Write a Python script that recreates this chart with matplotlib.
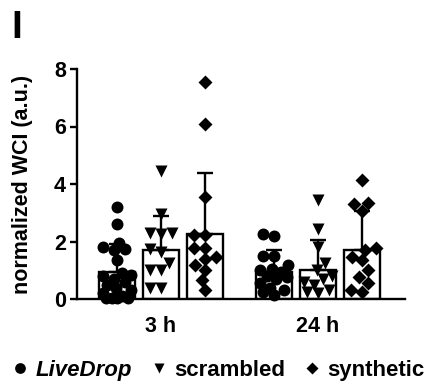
import numpy as np
import matplotlib
matplotlib.use('Agg')
import matplotlib.pyplot as plt
from matplotlib.lines import Line2D

plt.rcParams['font.family'] = ['Liberation Sans', 'DejaVu Sans']
plt.rcParams['font.weight'] = 'bold'

timepoints = ['3 h', '24 h']
groups = ['LiveDrop', 'scrambled', 'synthetic']
markers = ['o', 'v', 'D']
msizes = [8.6, 8.4, 7.0]

# individual values
livedrop_3h = [3.2, 2.6, 1.95, 1.8, 1.75, 1.7, 1.35, 0.9, 0.85, 0.8, 0.7,
               0.6, 0.5, 0.4, 0.3, 0.2, 0.1, 0.05, 0.02, 0.02, 0.02]
scrambled_3h = [4.45, 2.95, 2.3, 2.3, 2.25, 1.75, 1.65, 1.25, 1.0, 1.0, 0.4, 0.4]
synthetic_3h = [7.55, 6.1, 3.55, 2.22, 2.22, 1.77, 1.77, 1.45, 1.38, 1.18,
                1.0, 0.65, 0.3]
livedrop_24h = [2.25, 2.2, 1.5, 1.5, 1.2, 1.05, 1.0, 0.95, 0.8, 0.75, 0.7,
                0.55, 0.4, 0.3, 0.25, 0.15]
scrambled_24h = [3.45, 2.45, 1.8, 1.25, 1.0, 0.8, 0.7, 0.6, 0.5, 0.3, 0.25, 0.2]
synthetic_24h = [4.15, 3.35, 3.3, 3.05, 1.77, 1.7, 1.47, 1.35, 1.0, 0.77,
                 0.55, 0.3, 0.25]

# bar heights (mean) and upper error (SD)
means_3h = [0.95, 1.70, 2.25]
means_24h = [0.95, 1.00, 1.72]
sd_3h = [0.95, 1.20, 2.15]
sd_24h = [0.75, 1.05, 1.33]

points = [[livedrop_3h, scrambled_3h, synthetic_3h],
          [livedrop_24h, scrambled_24h, synthetic_24h]]
means = [means_3h, means_24h]
sds = [sd_3h, sd_24h]

W, H = 433, 386
fig = plt.figure(figsize=(W / 100, H / 100), dpi=100)
ax = fig.add_axes([77 / W, 1 - 299 / H, 328 / W, 230 / H])

xlim = (-0.535, 1.554)
ylim = (0, 8)
xpx = 328 / (xlim[1] - xlim[0])
ypx = 230 / (ylim[1] - ylim[0])

offsets = [-0.283, 0.0, 0.283]
bw = 0.229


def swarm(vals, diam, half):
    """simple beeswarm, returns pixel offsets"""
    order = np.argsort(vals)
    placed = []
    offs = np.zeros(len(vals))
    cands = sorted(np.arange(-half, half + 0.01, 1.0), key=abs)
    for i in order:
        y = vals[i] * ypx
        best, best_d = 0.0, -1
        for c in cands:
            d = min([np.hypot(c - px, y - py) for px, py in placed] + [1e9])
            if d >= diam:
                best = c
                break
            if d > best_d:
                best, best_d = c, d
        placed.append((best, y))
        offs[i] = best
    return offs


for t in range(2):
    for g in range(3):
        x = t + offsets[g]
        ax.bar(x, means[t][g], width=bw, color='white', edgecolor='black',
               linewidth=1.7, zorder=2)
        ax.errorbar(x, means[t][g], yerr=[[0], [sds[t][g]]], color='black',
                    lw=1.7, capsize=6, capthick=1.7, zorder=3)
        vals = np.array(points[t][g])
        offs = swarm(vals, 10.5, 14)
        ax.plot(x + offs / xpx, vals, linestyle='none', marker=markers[g],
                ms=msizes[g], color='black', mec='none', zorder=4,
                clip_on=False)

ax.set_xlim(*xlim)
ax.set_ylim(*ylim)
ax.set_yticks([0, 2, 4, 6, 8])
ax.set_xticks([0, 1])
ax.set_xticklabels(timepoints)
for s in ['top', 'right']:
    ax.spines[s].set_visible(False)
for s in ['left', 'bottom']:
    ax.spines[s].set_linewidth(1.7)
ax.tick_params(axis='y', length=5, width=1.7, labelsize=15.5, pad=3)
ax.tick_params(axis='x', length=0, labelsize=15.5, pad=12)
ax.set_ylabel('normalized WCI (a.u.)', fontsize=15.5, fontweight='bold')
ax.yaxis.set_label_coords(-0.135, 0.5)

handles = [Line2D([], [], linestyle='none', marker=m, ms=s * 0.9,
                  color='black', mec='none')
           for m, s in zip(markers, msizes)]
leg = fig.legend(handles, groups, loc='center', bbox_to_anchor=(0.505, 0.041),
                 ncol=3, frameon=False, fontsize=16, handlelength=0.7,
                 handletextpad=0.35, columnspacing=0.85, borderaxespad=0,
                 borderpad=0)
leg.get_texts()[0].set_style('italic')

fig.text(11 / W, 1 - 38 / H, 'I', fontsize=28, fontweight='bold',
         va='baseline', ha='left')

fig.savefig('out.png', dpi=100)
